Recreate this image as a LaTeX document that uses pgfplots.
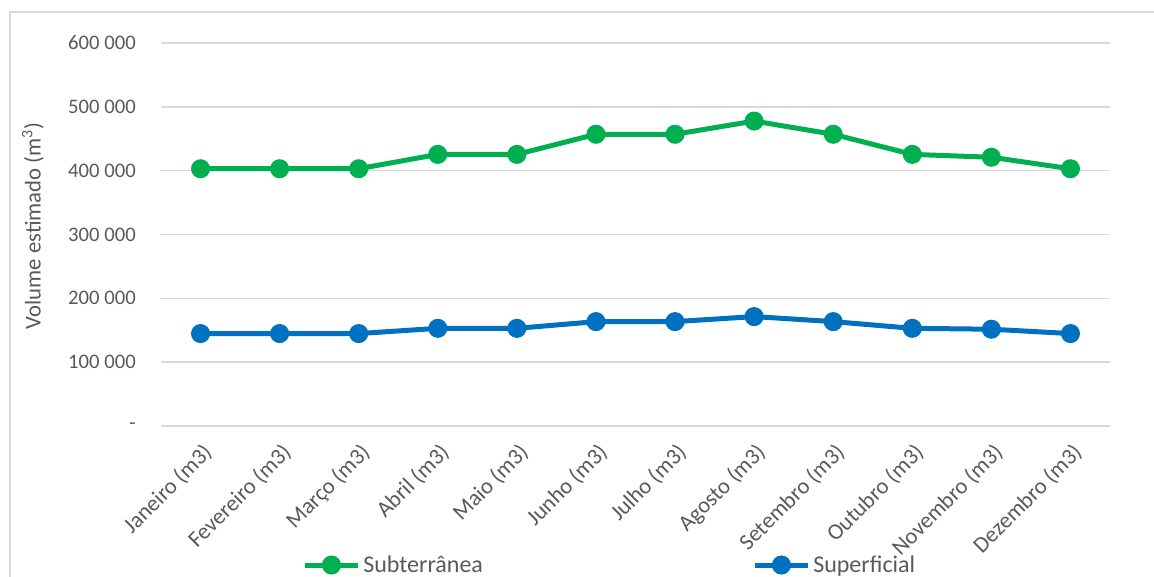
\documentclass[border=0pt]{standalone}
\usepackage{pgfplots}
\pgfplotsset{compat=1.18}
\usepackage{fontspec}
\setmainfont{Carlito}
\definecolor{cgreen}{HTML}{00B050}
\definecolor{cblue}{HTML}{0070C0}
\definecolor{cgrid}{HTML}{D9D9D9}
\definecolor{ctext}{HTML}{595959}
\begin{document}
\begin{tikzpicture}
\useasboundingbox (0pt,0pt) rectangle (865.5pt,432.75pt);
\clip (0pt,0pt) rectangle (865.5pt,432.75pt);
\draw[cgrid, line width=1pt] (7.5pt,-20pt) -- (7.5pt,423.75pt) -- (900pt,423.75pt);
\begin{axis}[
  at={(120.75pt,113.25pt)}, anchor=south west,
  scale only axis,
  width=711.75pt, height=287.25pt,
  xmin=-0.5, xmax=11.5,
  ymin=0, ymax=600000,
  scaled y ticks=false,
  axis line style={draw=none},
  major tick length=0pt,
  ymajorgrids,
  grid style={cgrid, line width=1.1pt},
  xtick={0,...,11},
  xticklabels={Janeiro (m3),Fevereiro (m3),Março (m3),Abril (m3),Maio (m3),Junho (m3),Julho (m3),Agosto (m3),Setembro (m3),Outubro (m3),Novembro (m3),Dezembro (m3)},
  ytick={0,100000,200000,300000,400000,500000,600000},
  yticklabels={-\hspace{12.5pt},100 000,200 000,300 000,400 000,500 000,600 000},
  ticklabel style={text=ctext},
  yticklabel style={font=\fontsize{15.5}{18}\selectfont, anchor=east, inner sep=0pt, xshift=-18.75pt},
  xticklabel style={font=\fontsize{17}{20}\selectfont, xshift=6pt, yshift=-17pt, rotate=45, anchor=east, inner sep=0pt},
  ylabel={Volume estimado (m\textsuperscript{3})},
  ylabel style={at={(axis description cs:-0.1349,0.522)}, anchor=center, font=\fontsize{17}{20}\selectfont, text=ctext},
  legend columns=2,
  legend style={at={(axis description cs:0.1486,-0.363)}, anchor=west, draw=none, fill=none, inner sep=0pt,
    font=\fontsize{18}{21}\selectfont, text=ctext,
    /tikz/every even column/.append style={column sep=200pt}},
  legend image code/.code={\draw[mark repeat=2,mark phase=2] plot coordinates {(0pt,0pt) (20pt,0pt) (40pt,0pt)};},
  legend cell align=left,
]
\addplot[cgreen, line width=3.75pt, mark=*, mark size=5.25pt, mark options={solid}] coordinates {
(0,403000)(1,403000)(2,403000)(3,425500)(4,425500)(5,457000)(6,457000)(7,477700)(8,457000)(9,425500)(10,421000)(11,403000)};
\addlegendentry{Subterrânea}
\addplot[cblue, line width=3.75pt, mark=*, mark size=5.25pt, mark options={solid}] coordinates {
(0,144800)(1,144800)(2,144800)(3,153000)(4,153000)(5,163500)(6,163500)(7,171400)(8,163500)(9,153000)(10,151600)(11,144800)};
\addlegendentry{Superficial}
\end{axis}
\end{tikzpicture}
\end{document}
